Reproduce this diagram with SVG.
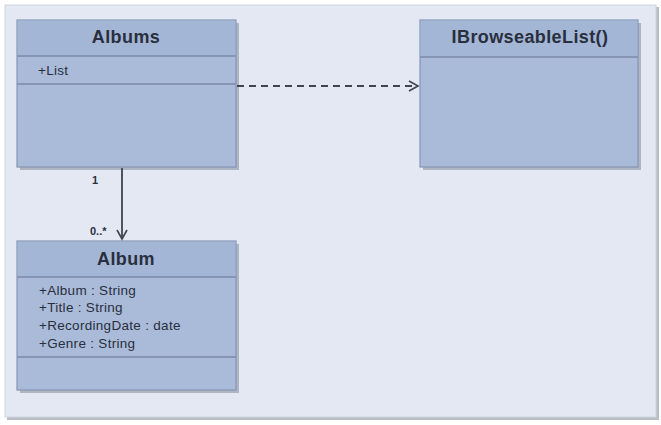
<svg xmlns="http://www.w3.org/2000/svg" width="661" height="425" viewBox="0 0 661 425">
<defs>
<marker id="open" markerWidth="12" markerHeight="12" refX="10" refY="6" orient="auto" markerUnits="userSpaceOnUse">
<path d="M1,1 L10,6 L1,11" fill="none" stroke="#404450" stroke-width="1.6"/>
</marker>
</defs>
<style>
.shadow{fill:#8a93a3;opacity:0.6}
.box{fill:#a9bbd9;stroke:#8595b3;stroke-width:1.2}
.hdr{fill:#a3b6d6}
.div{stroke:#8595b3;stroke-width:2}
.title{font-family:"Liberation Sans",Arial,sans-serif;font-weight:bold;font-size:18px;letter-spacing:0.4px;fill:#2a2f3d;text-anchor:middle}
.attr{font-family:"Liberation Sans",Arial,sans-serif;font-size:13.5px;letter-spacing:0.3px;fill:#2a2f3d}
.mult{font-family:"Liberation Sans",Arial,sans-serif;font-size:11px;font-weight:bold;fill:#2a2f3d}
.edge{stroke:#404450;stroke-width:1.8;fill:none}
</style>
<rect x="0" y="0" width="661" height="425" fill="#ffffff"/>
<rect x="7" y="7" width="652" height="413" fill="#b9bdc4"/>
<rect x="5" y="5" width="651" height="412" fill="#e3e8f3" stroke="#d0d5df" stroke-width="1"/>

<g id="Albums">
<rect class="shadow" x="20" y="23" width="219" height="147"/>
<rect class="box" x="17" y="20" width="219" height="147"/>
<rect class="hdr" x="17.6" y="20.6" width="217.8" height="35"/>
<line class="div" x1="17" y1="56" x2="236" y2="56"/>
<line class="div" x1="17" y1="84" x2="236" y2="84"/>
<text class="title" x="126" y="43">Albums</text>
<text class="attr" x="38" y="75">+List</text>
</g>

<g id="IBrowseableList">
<rect class="shadow" x="423" y="23" width="218" height="147"/>
<rect class="box" x="420" y="20" width="218" height="147"/>
<rect class="hdr" x="420.6" y="20.6" width="216.8" height="36"/>
<line class="div" x1="420" y1="57" x2="638" y2="57"/>
<text class="title" x="530" y="43">IBrowseableList()</text>
</g>

<g id="Album">
<rect class="shadow" x="20" y="244" width="219" height="149"/>
<rect class="box" x="17" y="241" width="219" height="149"/>
<rect class="hdr" x="17.6" y="241.6" width="217.8" height="35"/>
<line class="div" x1="17" y1="277" x2="236" y2="277"/>
<line class="div" x1="17" y1="357" x2="236" y2="357"/>
<text class="title" x="126" y="265">Album</text>
<text class="attr" x="39" y="295">+Album : String</text>
<text class="attr" x="39" y="312">+Title : String</text>
<text class="attr" x="39" y="330">+RecordingDate : date</text>
<text class="attr" x="39" y="348">+Genre : String</text>
</g>

<g id="connectors">
<line class="edge" x1="122" y1="168" x2="122" y2="239" marker-end="url(#open)"/>
<line class="edge" x1="237" y1="86" x2="418" y2="86" stroke-dasharray="7,5" marker-end="url(#open)"/>
<text class="mult" x="92" y="184">1</text>
<text class="mult" x="90" y="235">0..*</text>
</g>
</svg>
